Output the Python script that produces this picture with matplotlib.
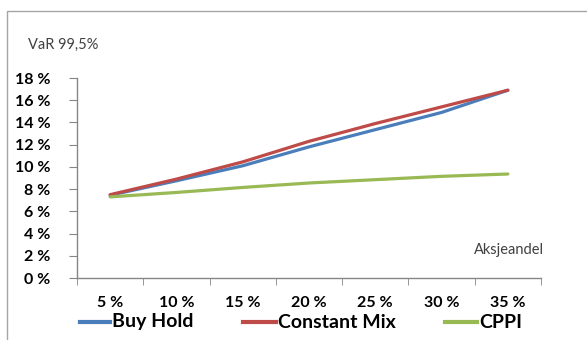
import matplotlib
matplotlib.use("Agg")
import matplotlib.pyplot as plt
from matplotlib.lines import Line2D
from matplotlib.patches import Rectangle
from matplotlib.ticker import FixedLocator, NullFormatter

plt.rcParams['font.family'] = ['Lato', 'DejaVu Sans']

# Stock share (x) and VaR 99.5% (in %) for each strategy
categories = ["5 %", "10 %", "15 %", "20 %", "25 %", "30 %", "35 %"]
buy_hold = [7.45, 8.75, 10.1, 11.8, 13.35, 14.9, 16.9]
constant_mix = [7.5, 8.9, 10.45, 12.3, 13.9, 15.4, 16.9]
cppi = [7.3, 7.7, 8.15, 8.55, 8.85, 9.15, 9.36]
y_ticks = [0, 2, 4, 6, 8, 10, 12, 14, 16, 18]
series_names = ["Buy Hold", "Constant Mix", "CPPI"]
series_colors = ["#4a7ebb", "#be4b48", "#98b954"]

W, H = 587, 340
fig = plt.figure(figsize=(W / 100, H / 100), dpi=100)

# chart-area frame
fig.patches.append(Rectangle((7 / W, -0.1), 1.2, (H - 11) / H + 0.1,
                             transform=fig.transFigure, fill=False,
                             edgecolor="#a6a6a6", linewidth=1.0))

ax = fig.add_axes([77 / W, 1 - 278 / H, 464 / W, 200 / H])

x = range(len(categories))
for values, color in zip([buy_hold, constant_mix, cppi], series_colors):
    ax.plot(x, values, color=color, lw=2.3, solid_capstyle="round")

ax.set_xlim(-0.5, len(categories) - 0.5)
ax.set_ylim(0, 18)

for s in ("top", "right"):
    ax.spines[s].set_visible(False)
for s in ("left", "bottom"):
    ax.spines[s].set_color("#868686")
    ax.spines[s].set_linewidth(1.0)

ax.set_yticks(y_ticks)
ax.set_yticklabels([f"{v} %" for v in y_ticks], fontsize=11.5, fontweight="bold")
ax.tick_params(axis="y", length=6, color="#868686", pad=13)

ax.set_xticks(list(x))
ax.set_xticklabels(categories, fontsize=11.5, fontweight="bold")
ax.tick_params(axis="x", which="major", length=0, pad=13)
ax.xaxis.set_minor_locator(FixedLocator([i - 0.5 for i in range(len(categories) + 1)]))
ax.xaxis.set_minor_formatter(NullFormatter())
ax.tick_params(axis="x", which="minor", length=5, color="#868686")

fig.text(28 / W, 1 - 45 / H, "VaR 99,5%", fontsize=10.5, color="#404040",
         va="center", ha="left")
fig.text(474 / W, 1 - 250 / H, "Aksjeandel", fontsize=10.5, color="#404040",
         va="center", ha="left")

# legend row below the axis
legend_y = 1 - 322 / H
key_spans = [(80, 110), (243, 276), (445, 477)]
for name, color, (x0, x1) in zip(series_names, series_colors, key_spans):
    fig.add_artist(Line2D([x0 / W, x1 / W], [legend_y, legend_y],
                          transform=fig.transFigure, color=color, lw=3))
    fig.text((x1 + 2) / W, legend_y, name, fontsize=14, fontweight="bold",
             va="center", ha="left")

fig.savefig("out.png", dpi=100)
